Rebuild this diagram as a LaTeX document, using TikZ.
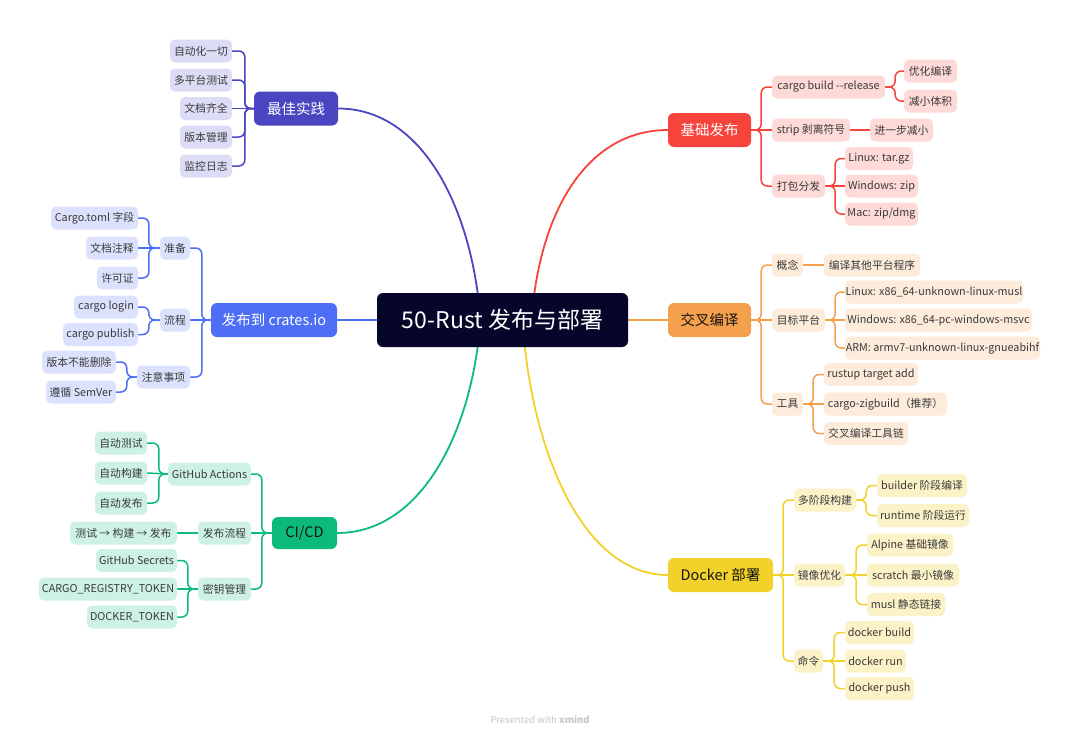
\documentclass[tikz,border=0pt]{standalone}
\usepackage{fontspec}
\setmainfont{Noto Sans CJK SC}
\usetikzlibrary{backgrounds,calc}
\definecolor{rootc}{HTML}{06062B}
\definecolor{cP}{HTML}{4A46C2}\definecolor{lP}{HTML}{DDDCF6}
\definecolor{cB}{HTML}{4E6EF6}\definecolor{lB}{HTML}{DCE2FD}
\definecolor{cG}{HTML}{0CBB7A}\definecolor{lG}{HTML}{CDF1E3}
\definecolor{cR}{HTML}{F6443D}\definecolor{lR}{HTML}{FDD9D7}
\definecolor{cO}{HTML}{F5A04C}\definecolor{lO}{HTML}{FDEBDB}
\definecolor{cY}{HTML}{F2D22A}\definecolor{lY}{HTML}{FCF2C8}
\definecolor{ltext}{HTML}{3A3A3A}
\definecolor{dtext}{HTML}{141414}
\tikzset{
  rootnode/.style={fill=rootc, text=white, rounded corners=6pt, minimum width=251pt, minimum height=54pt, inner sep=0pt, font=\fontsize{23}{26}\selectfont},
  mainnode/.style={rounded corners=6pt, minimum height=34pt, inner sep=0pt, font=\fontsize{14.5}{16}\selectfont},
  leaf/.style={rounded corners=5pt, minimum height=23pt, inner sep=0pt, text=ltext, font=\fontsize{10.8}{12}\selectfont},
  lfP/.style={leaf, fill=lP}, lfB/.style={leaf, fill=lB}, lfG/.style={leaf, fill=lG},
  lfR/.style={leaf, fill=lR}, lfO/.style={leaf, fill=lO}, lfY/.style={leaf, fill=lY},
  conn/.style={line width=1.5pt, rounded corners=6pt},
  mconn/.style={line width=1.8pt},
}
\begin{document}
\begin{tikzpicture}[x=1pt,y=-1pt]
\useasboundingbox (0,0) rectangle (1080,739);
% root and main branches
\node[rootnode] (root) at (502.5,320) {50-Rust 发布与部署};
\node[mainnode, fill=cP, text=white, minimum width=84pt] (bp) at (296,108.5) {最佳实践};
\node[mainnode, fill=cB, text=white, minimum width=126pt] (cr) at (274,320) {发布到 crates.io};
\node[mainnode, fill=cG, text=dtext, minimum width=65pt, minimum height=32pt] (ci) at (304.5,533) {CI/CD};
\node[mainnode, fill=cR, text=white, minimum width=83pt] (jc) at (709.5,130) {基础发布};
\node[mainnode, fill=cO, text=dtext, minimum width=83pt] (cc) at (709.5,320) {交叉编译};
\node[mainnode, fill=cY, text=dtext, minimum width=105pt] (dk) at (720.5,575) {Docker 部署};
% best practice
\node[lfP, minimum width=62pt] (bp1) at (201,51) {自动化一切};
\node[lfP, minimum width=62pt] (bp2) at (201,80) {多平台测试};
\node[lfP, minimum width=52pt] (bp3) at (206,108.5) {文档齐全};
\node[lfP, minimum width=52pt] (bp4) at (206,137) {版本管理};
\node[lfP, minimum width=52pt] (bp5) at (206,166) {监控日志};
% crates.io
\node[lfB, minimum width=30pt] (cr1) at (175,248) {准备};
\node[lfB, minimum width=30pt] (cr2) at (175,320) {流程};
\node[lfB, minimum width=53pt] (cr3) at (163.5,377) {注意事项};
\node[lfB, minimum width=87pt] (cr11) at (94.5,218) {Cargo.toml 字段};
\node[lfB, minimum width=52pt] (cr12) at (112,248) {文档注释};
\node[lfB, minimum width=41pt] (cr13) at (117.5,278) {许可证};
\node[lfB, minimum width=64pt] (cr21) at (106,307) {cargo login};
\node[lfB, minimum width=75pt] (cr22) at (100.5,334.5) {cargo publish};
\node[lfB, minimum width=74pt] (cr31) at (79,362) {版本不能删除};
\node[lfB, minimum width=70pt] (cr32) at (81,392) {遵循 SemVer};
% CI/CD
\node[lfG, minimum width=83pt] (ci1) at (209.5,474) {GitHub Actions};
\node[lfG, minimum width=53pt] (ci2) at (224.5,533) {发布流程};
\node[lfG, minimum width=53pt] (ci3) at (224.5,589) {密钥管理};
\node[lfG, minimum width=52pt] (ci11) at (121,443) {自动测试};
\node[lfG, minimum width=52pt] (ci12) at (121,473) {自动构建};
\node[lfG, minimum width=52pt] (ci13) at (121,503) {自动发布};
\node[lfG, minimum width=107pt] (ci21) at (123.5,533) {测试 → 构建 → 发布};
\node[lfG, minimum width=81pt] (ci31) at (136.5,560.5) {GitHub Secrets};
\node[lfG, minimum width=138pt] (ci32) at (108,589) {CARGO\_REGISTRY\_TOKEN};
\node[lfG, minimum width=90pt] (ci33) at (132,617) {DOCKER\_TOKEN};
% 基础发布
\node[lfR, minimum width=113pt] (jc1) at (828.5,87) {cargo build -{}-release};
\node[lfR, minimum width=78pt] (jc2) at (811,130) {strip 剥离符号};
\node[lfR, minimum width=53pt] (jc3) at (798.5,186) {打包分发};
\node[lfR, minimum width=53pt] (jc11) at (930.5,71) {优化编译};
\node[lfR, minimum width=53pt] (jc12) at (930.5,101) {减小体积};
\node[lfR, minimum width=63pt] (jc21) at (901.5,130) {进一步减小};
\node[lfR, minimum width=68pt] (jc31) at (879,158.5) {Linux: tar.gz};
\node[lfR, minimum width=73pt] (jc32) at (881.5,186) {Windows: zip};
\node[lfR, minimum width=73pt] (jc33) at (881.5,214) {Mac: zip/dmg};
% 交叉编译
\node[lfO, minimum width=31pt] (cc1) at (787.5,265) {概念};
\node[lfO, minimum width=53pt] (cc2) at (798.5,320) {目标平台};
\node[lfO, minimum width=31pt] (cc3) at (787.5,404) {工具};
\node[lfO, minimum width=96pt] (cc11) at (872,265) {编译其他平台程序};
\node[lfO, minimum width=178pt] (cc21) at (934,292) {Linux: x86\_64-unknown-linux-musl};
\node[lfO, minimum width=187pt] (cc22) at (938.5,320) {Windows: x86\_64-pc-windows-msvc};
\node[lfO, minimum width=195pt] (cc23) at (942.5,348) {ARM: armv7-unknown-linux-gnueabihf};
\node[lfO, minimum width=94pt] (cc31) at (871,374.5) {rustup target add};
\node[lfO, minimum width=123pt] (cc32) at (885.5,404) {cargo-zigbuild（推荐）};
\node[lfO, minimum width=84pt] (cc33) at (866,433.5) {交叉编译工具链};
% Docker
\node[lfY, minimum width=62pt] (dk1) at (825,500) {多阶段构建};
\node[lfY, minimum width=51pt] (dk2) at (819.5,575) {镜像优化};
\node[lfY, minimum width=29pt] (dk3) at (808.5,661) {命令};
\node[lfY, minimum width=90pt] (dk11) at (922,485.5) {builder 阶段编译};
\node[lfY, minimum width=92pt] (dk12) at (923,515.5) {runtime 阶段运行};
\node[lfY, minimum width=86pt] (dk21) at (910,545) {Alpine 基础镜像};
\node[lfY, minimum width=92pt] (dk22) at (913,575) {scratch 最小镜像};
\node[lfY, minimum width=78pt] (dk23) at (906,604.5) {musl 静态链接};
\node[lfY, minimum width=69pt] (dk31) at (879.5,632.5) {docker build};
\node[lfY, minimum width=61pt] (dk32) at (875.5,661) {docker run};
\node[lfY, minimum width=69pt] (dk33) at (879.5,688.5) {docker push};
% footer
\node[font=\fontsize{9.5}{11}\selectfont, text=black!22] (ft) at (540,720) {Presented with \textbf{xmind}};
\begin{scope}[on background layer]
\fill[white] (0,0) rectangle (1080,739);
% main connectors
\draw[mconn, cP] ($(root.center)+(-22,0)$) .. controls +(-8,-110) and +(85,0) .. (bp.east);
\draw[mconn, cB] (root.center) -- (cr.east);
\draw[mconn, cG] ($(root.center)+(-22,0)$) .. controls +(-8,110) and +(85,0) .. (ci.east);
\draw[mconn, cR] ($(root.center)+(29,0)$) .. controls +(8,-110) and +(-80,0) .. (jc.west);
\draw[mconn, cO] (root.center) -- (cc.west);
\draw[mconn, cY] ($(root.center)+(20,0)$) .. controls +(8,130) and +(-85,0) .. (dk.west);
% left side brackets
\foreach \c in {bp1,bp2,bp4,bp5} \draw[conn, cP] (bp.west) -- ++(-9,0) |- (\c.east);
\draw[conn, cP] (bp.west) -- (bp3.east);
\foreach \c in {cr1,cr3} \draw[conn, cB] (cr.west) -- ++(-9,0) |- (\c.east);
\draw[conn, cB] (cr.west) -- (cr2.east);
\foreach \c in {cr11,cr13} \draw[conn, cB] (cr1.west) -- ++(-11,0) |- (\c.east);
\draw[conn, cB] (cr1.west) -- (cr12.east);
\foreach \c in {cr21,cr22} \draw[conn, cB] (cr2.west) -- ++(-11,0) |- (\c.east);
\foreach \c in {cr31,cr32} \draw[conn, cB] (cr3.west) -- ++(-10,0) |- (\c.east);
\foreach \c in {ci1,ci3} \draw[conn, cG] (ci.west) -- ++(-10,0) |- (\c.east);
\draw[conn, cG] (ci.west) -- (ci2.east);
\foreach \c in {ci11,ci13} \draw[conn, cG] (ci1.west) -- ++(-9,0) |- (\c.east);
\draw[conn, cG] (ci1.west) -- (ci12.east);
\draw[conn, cG] (ci2.west) -- (ci21.east);
\foreach \c in {ci31,ci33} \draw[conn, cG] (ci3.west) -- ++(-10,0) |- (\c.east);
\draw[conn, cG] (ci3.west) -- (ci32.east);
% right side brackets
\foreach \c in {jc1,jc3} \draw[conn, cR] (jc.east) -- ++(10,0) |- (\c.west);
\draw[conn, cR] (jc.east) -- (jc2.west);
\foreach \c in {jc11,jc12} \draw[conn, cR] (jc1.east) -- ++(10,0) |- (\c.west);
\draw[conn, cR] (jc2.east) -- (jc21.west);
\foreach \c in {jc31,jc33} \draw[conn, cR] (jc3.east) -- ++(10,0) |- (\c.west);
\draw[conn, cR] (jc3.east) -- (jc32.west);
\foreach \c in {cc1,cc3} \draw[conn, cO] (cc.east) -- ++(10,0) |- (\c.west);
\draw[conn, cO] (cc.east) -- (cc2.west);
\draw[conn, cO] (cc1.east) -- (cc11.west);
\foreach \c in {cc21,cc23} \draw[conn, cO] (cc2.east) -- ++(10,0) |- (\c.west);
\draw[conn, cO] (cc2.east) -- (cc22.west);
\foreach \c in {cc31,cc33} \draw[conn, cO] (cc3.east) -- ++(10,0) |- (\c.west);
\draw[conn, cO] (cc3.east) -- (cc32.west);
\foreach \c in {dk1,dk3} \draw[conn, cY] (dk.east) -- ++(10,0) |- (\c.west);
\draw[conn, cY] (dk.east) -- (dk2.west);
\foreach \c in {dk11,dk12} \draw[conn, cY] (dk1.east) -- ++(10,0) |- (\c.west);
\foreach \c in {dk21,dk23} \draw[conn, cY] (dk2.east) -- ++(11,0) |- (\c.west);
\draw[conn, cY] (dk2.east) -- (dk22.west);
\foreach \c in {dk31,dk33} \draw[conn, cY] (dk3.east) -- ++(11,0) |- (\c.west);
\draw[conn, cY] (dk3.east) -- (dk32.west);
\end{scope}
\end{tikzpicture}
\end{document}
